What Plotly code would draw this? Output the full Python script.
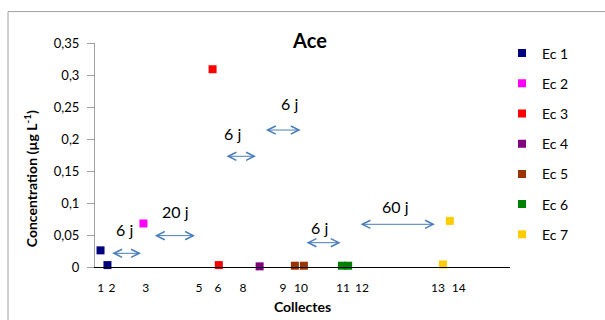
import plotly.graph_objects as go

# ---- data ----
series_names = ["Ec 1", "Ec 2", "Ec 3", "Ec 4", "Ec 5", "Ec 6", "Ec 7"]
series_colors = ["#000080", "#FF00FF", "#FF0000", "#800080", "#993300", "#008000", "#FFCC00"]
series_x = [[0.8, 1.8], [7.0], [17.0, 17.9], [23.8], [28.9, 30.2], [35.7, 36.6], [50.3, 51.3]]
series_y = [[0.026, 0.003], [0.068], [0.309, 0.003], [0.001], [0.002, 0.002], [0.002, 0.002], [0.004, 0.072]]

tick_vals = [0.82, 2.46, 7.33, 15.04, 17.78, 21.4, 27.18, 29.78, 35.85, 38.6, 49.6, 52.6]
tick_text = ["1", "2", "3", "5", "6", "8", "9", "10", "11", "12", "13", "14"]

y_tick_vals = [0, 0.05, 0.1, 0.15, 0.2, 0.25, 0.3, 0.35]
y_tick_text = ["0", "0,05", "0,1", "0,15", "0,2", "0,25", "0,3", "0,35"]

arrow_x0 = [2.27, 8.43, 18.79, 24.48, 30.36, 38.17]
arrow_x1 = [6.65, 14.46, 23.28, 29.74, 35.52, 49.15]
arrow_y = [0.0214, 0.049, 0.173, 0.214, 0.038, 0.0667]
label_text = ["6 j", "20 j", "6 j", "6 j", "6 j", "60 j"]
label_x = [4.24, 11.57, 19.9, 28.05, 32.5, 43.5]
label_y = [0.058, 0.0875, 0.209, 0.256, 0.0614, 0.094]

FONT = "Lato"
W, H = 605, 320
L, R, T, B = 95, 95, 42.5, 53

fig = go.Figure()
for i, name in enumerate(series_names):
    fig.add_trace(go.Scatter(
        x=series_x[i], y=series_y[i], mode="markers", name=name,
        legendgroup=name,
        marker=dict(symbol="square", size=8, color=series_colors[i]),
        cliponaxis=False,
    ))

pw = W - L - R
ph = H - T - B

annotations = []
for x0, x1, y in zip(arrow_x0, arrow_x1, arrow_y):
    annotations.append(dict(
        x=x1, y=y, ax=x0, ay=y, xref="x", yref="y", axref="x", ayref="y",
        text="", showarrow=True, arrowside="end+start",
        arrowhead=5, startarrowhead=5, arrowsize=1.6, startarrowsize=1.6,
        arrowwidth=1, arrowcolor="#4A7EBB", standoff=0, startstandoff=0,
    ))
for t, x, y in zip(label_text, label_x, label_y):
    annotations.append(dict(
        x=x, y=y, xref="x", yref="y", text=t, showarrow=False,
        font=dict(family=FONT, size=16, color="#000000"),
    ))
# y-axis title (placed as in reference, lower than plot centre)
annotations.append(dict(
    x=(30 - L) / pw, y=(H - B - 179) / ph, xref="paper", yref="paper",
    text="<b>Concentration (µg L<sup>-1</sup>)</b>", textangle=-90, showarrow=False,
    xanchor="center", yanchor="middle",
    font=dict(family=FONT, size=14, color="#000000"),
))

fig.add_shape(type="rect", xref="paper", yref="paper",
              x0=(8 - L) / pw, x1=(W + 20 - L) / pw,
              y0=(H - B - (H + 20)) / ph, y1=(H - B - 11) / ph,
              line=dict(color="#A0A0A0", width=1), fillcolor="rgba(0,0,0,0)",
              layer="below")

fig.update_layout(
    width=W, height=H,
    margin=dict(l=L, r=R, t=T, b=B, autoexpand=False),
    paper_bgcolor="white", plot_bgcolor="white",
    font=dict(family=FONT, color="#000000"),
    title=dict(text="<b>Ace</b>", x=310 / W, xanchor="center", y=1 - 41 / H, yanchor="middle",
               font=dict(family=FONT, size=20, color="#000000")),
    showlegend=True,
    legend=dict(x=(502 - L) / pw, xanchor="left", y=(H - B - 37) / ph, yanchor="top",
                font=dict(family=FONT, size=14, color="#000000"),
                tracegroupgap=9, bgcolor="rgba(0,0,0,0)", maxheight=300),
    annotations=annotations,
    xaxis=dict(range=[0, 60], showgrid=False, zeroline=False, automargin=False,
               showline=True, linecolor="#000000", linewidth=1.3,
               tickmode="array", tickvals=tick_vals, ticktext=tick_text,
               ticks="outside", ticklen=9, tickcolor="rgba(0,0,0,0)",
               tickfont=dict(family=FONT, size=12, color="#000000"),
               title=dict(text="<b>Collectes</b>", standoff=8,
                          font=dict(family=FONT, size=14, color="#000000"))),
    yaxis=dict(range=[0, 0.35], showgrid=False, zeroline=False, automargin=False,
               showline=True, linecolor="#A0A0A0", linewidth=1,
               tickmode="array", tickvals=y_tick_vals, ticktext=y_tick_text,
               ticks="outside", ticklen=7, tickcolor="#A0A0A0",
               ticklabelstandoff=5,
               tickfont=dict(family=FONT, size=13, color="#000000")),
)

fig.write_html("out.html", config={"displayModeBar": False},
               post_script="document.body.style.margin='0';")
